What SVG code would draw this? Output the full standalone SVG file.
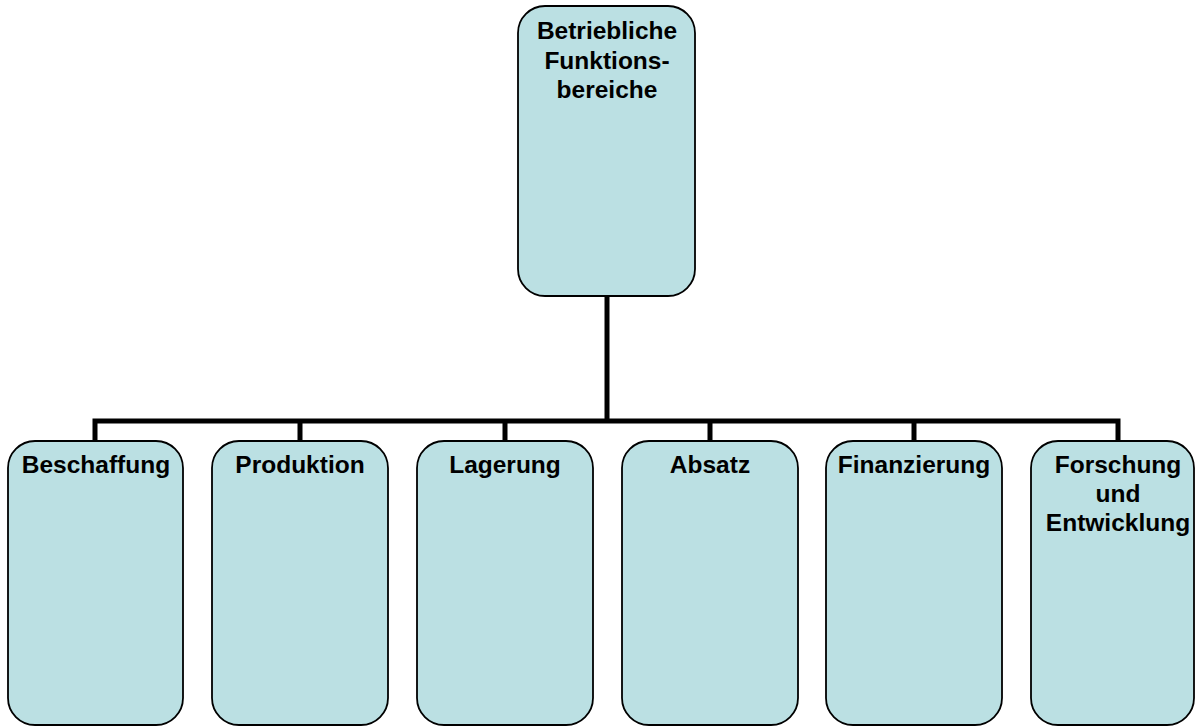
<svg xmlns="http://www.w3.org/2000/svg" width="1195" height="727" viewBox="0 0 1195 727">
  <style>
    .box { fill: #BBE0E3; stroke: #000; stroke-width: 1.8; }
    .lbl { font-family: "Liberation Sans", Arial, sans-serif; font-weight: bold; font-size: 24.5px; fill: #000; text-anchor: middle; }
    .conn { fill: none; stroke: #000; stroke-width: 5; stroke-linecap: butt; stroke-linejoin: miter; }
  </style>
  <rect width="1195" height="727" fill="#fff"/>

  <!-- connectors -->
  <g id="connectors">
    <path class="conn" d="M607 296 V421"/>
    <path class="conn" d="M95 441 V421 H1118 V441"/>
    <path class="conn" d="M300 421 V441 M505 421 V441 M710 421 V441 M914 421 V441"/>
  </g>

  <!-- root -->
  <g id="node-root">
    <rect class="box" x="518" y="6" width="177" height="290" rx="27"/>
    <text class="lbl" x="607" y="39">Betriebliche</text>
    <text class="lbl" x="607" y="69">Funktions-</text>
    <text class="lbl" x="607" y="98">bereiche</text>
  </g>

  <g id="node-beschaffung">
    <rect class="box" x="8" y="441" width="175" height="284" rx="27"/>
    <text class="lbl" x="96" y="473">Beschaffung</text>
  </g>
  <g id="node-produktion">
    <rect class="box" x="212" y="441" width="176" height="284" rx="27"/>
    <text class="lbl" x="300" y="473">Produktion</text>
  </g>
  <g id="node-lagerung">
    <rect class="box" x="417" y="441" width="176" height="284" rx="27"/>
    <text class="lbl" x="505" y="473">Lagerung</text>
  </g>
  <g id="node-absatz">
    <rect class="box" x="622" y="441" width="176" height="284" rx="27"/>
    <text class="lbl" x="710" y="473">Absatz</text>
  </g>
  <g id="node-finanzierung">
    <rect class="box" x="826" y="441" width="176" height="284" rx="27"/>
    <text class="lbl" x="914" y="473">Finanzierung</text>
  </g>
  <g id="node-forschung">
    <rect class="box" x="1031" y="441" width="163" height="284" rx="27"/>
    <text class="lbl" x="1118" y="473">Forschung</text>
    <text class="lbl" x="1118" y="502">und</text>
    <text class="lbl" x="1118" y="531">Entwicklung</text>
  </g>
</svg>
